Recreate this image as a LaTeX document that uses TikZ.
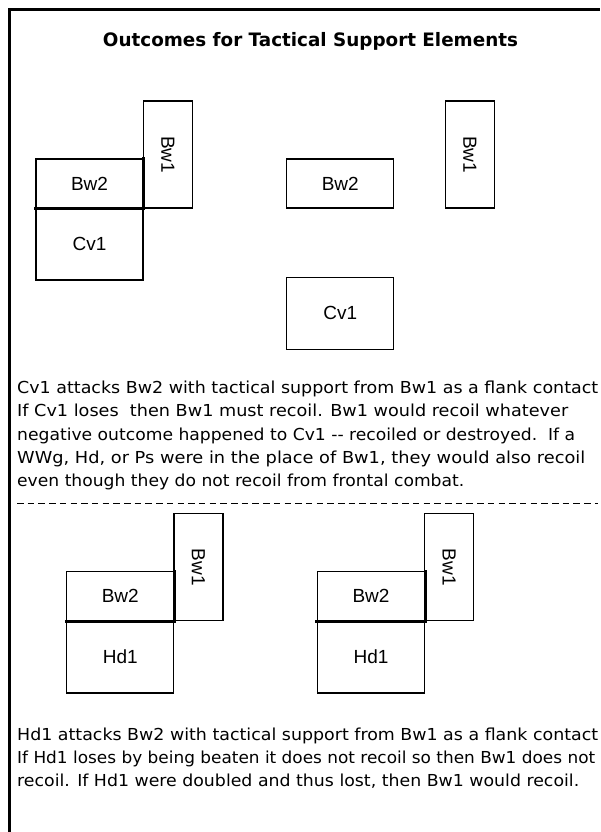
\documentclass[tikz,border=0pt]{standalone}
\usepackage{fontspec}
\setmainfont{DejaVu Sans}
\newfontfamily\boxlabelfont{Liberation Sans}
\usepackage{graphicx}
\newcommand{\fitw}[2]{\resizebox{#1}{\height}{#2}}
\begin{document}
\begin{tikzpicture}[x=1pt,y=-1pt,
  unitbox/.style={draw, line width=1.3pt, inner sep=0pt, font=\boxlabelfont\fontsize{19}{19}\selectfont},
  widebox/.style={unitbox, minimum width=107pt, minimum height=49pt},
  tallbox/.style={unitbox, minimum width=49pt, minimum height=107pt},
  bigbox/.style={unitbox, minimum width=107pt, minimum height=72pt},
  contactline/.style={line width=3pt, line cap=rect},
  textline/.style={anchor=base west, inner sep=0pt, font=\fontsize{16.5}{16.5}\selectfont},
  titletext/.style={anchor=base, inner sep=0pt, font=\bfseries\fontsize{18.5}{18.5}\selectfont},
  separator/.style={line width=1.3pt, dash pattern=on 6.5pt off 4.2pt},
  frameline/.style={line width=3pt},
]
\useasboundingbox (0,0) rectangle (600,832);
\fill[white] (0,0) rectangle (600,832);
\draw[frameline] (9.5,832) -- (9.5,9.5) -- (600,9.5);

\node[titletext] (title) at (310.5,46.5) {\fitw{415pt}{Outcomes for Tactical Support Elements}};

% Diagram 1
\node[widebox] (a-bw2) at (89.5,183.5) {Bw2};
\node[tallbox] (a-bw1) at (168,154.5) {\rotatebox{-90}{Bw1}};
\node[bigbox]  (a-cv1) at (89.5,244) {Cv1};
\draw[contactline] (a-bw2.south west) -- (a-bw2.south east) -- (a-bw2.north east);

% Diagram 2
\node[widebox] (b-bw2) at (340.3,183.5) {Bw2};
\node[tallbox] (b-bw1) at (470,154.5) {\rotatebox{-90}{Bw1}};
\node[bigbox]  (b-cv1) at (340.3,313.3) {Cv1};

% Paragraph 1
\node[textline] (p1l1) at (17,393.3) {\fitw{581pt}{Cv1 attacks Bw2 with tactical support from Bw1 as a flank contact}};
\node[textline] (p1l2) at (17,416.7) {\fitw{551pt}{If Cv1 loses\ \ then Bw1 must recoil. Bw1 would recoil whatever}};
\node[textline] (p1l3) at (17,440) {\fitw{558pt}{negative outcome happened to Cv1 -{}- recoiled or destroyed.\ \ If a}};
\node[textline] (p1l4) at (17,463.3) {\fitw{568pt}{WWg, Hd, or Ps were in the place of Bw1, they would also recoil}};
\node[textline] (p1l5) at (17,486.7) {\fitw{447pt}{even though they do not recoil from frontal combat.}};

% Separator
\coordinate (sepL) at (17,503.5);
\coordinate (sepR) at (598,503.5);
\draw[separator] (sepL) -- (sepR);

% Diagram 3
\node[widebox] (c-bw2) at (120.3,596.2) {Bw2};
\node[tallbox] (c-bw1) at (198.5,567.3) {\rotatebox{-90}{Bw1}};
\node[bigbox]  (c-hd1) at (120.3,657) {Hd1};
\draw[contactline] (c-bw2.south west) -- (c-bw2.south east) -- (c-bw2.north east);

% Diagram 4
\node[widebox] (d-bw2) at (371,596.2) {Bw2};
\node[tallbox] (d-bw1) at (449.2,567.3) {\rotatebox{-90}{Bw1}};
\node[bigbox]  (d-hd1) at (371,657) {Hd1};
\draw[contactline] (d-bw2.south west) -- (d-bw2.south east) -- (d-bw2.north east);

% Paragraph 2
\node[textline] (p2l1) at (17,740.5) {\fitw{581pt}{Hd1 attacks Bw2 with tactical support from Bw1 as a flank contact}};
\node[textline] (p2l2) at (17,763.5) {\fitw{578pt}{If Hd1 loses by being beaten it does not recoil so then Bw1 does not}};
\node[textline] (p2l3) at (17,786.5) {\fitw{562pt}{recoil. If Hd1 were doubled and thus lost, then Bw1 would recoil.}};
\end{tikzpicture}
\end{document}
